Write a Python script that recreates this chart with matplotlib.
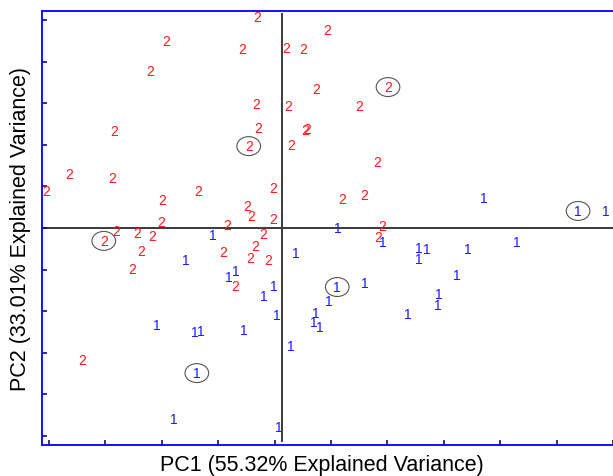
import matplotlib
matplotlib.use("Agg")
import matplotlib.pyplot as plt
import numpy as np
from matplotlib.markers import MarkerStyle
from matplotlib.path import Path
from matplotlib.transforms import Affine2D

plt.rcParams['font.family'] = ['Liberation Sans', 'DejaVu Sans']

# Class 2 scores (red)
pc1_class2 = [-0.44, -2.06, 0.80, -0.71, 0.07, 0.37, -2.34, 0.60, 1.88, -0.46,
              0.11, 1.37, -2.98, -0.43, 0.41, 0.44, -0.59, 0.16, 1.68, -3.78,
              -3.01, -4.18, -1.49, -0.16, 1.06, 1.45, -2.13, -0.62, -0.55, -0.16,
              -2.15, -0.98, 1.77, -2.94, -3.16, -2.57, -2.30, -0.34, 1.70, -2.50,
              -1.05, -0.48, -0.57, -0.25, -2.66, -0.83, -3.55]
pc2_class2 = [5.07, 4.50, 4.76, 4.30, 4.33, 4.30, 3.77, 3.34, 3.39, 2.98,
              2.93, 2.93, 2.33, 2.40, 2.36, 2.38, 1.97, 2.00, 1.59, 1.30,
              1.20, 0.89, 0.89, 0.96, 0.70, 0.79, 0.67, 0.53, 0.29, 0.22,
              0.14, 0.07, 0.05, -0.07, -0.31, -0.12, -0.19, -0.14, -0.22, -0.55,
              -0.58, -0.43, -0.72, -0.77, -0.99, -1.39, -3.17]
circled_class2 = [8, 16, 34]

# Class 1 scores (blue)
pc1_class1 = [3.58, 5.25, 5.74, 0.99, -1.22, 4.17, 1.79, 2.43, 2.57, 3.30,
              0.25, 2.43, -1.70, -0.82, -0.94, 3.10, -0.14, 1.47, 0.98, -0.32,
              2.78, 0.83, 2.77, -0.09, 0.60, 2.23, 0.57, 0.67, -2.22, -1.54,
              -1.44, -0.67, 0.16, -1.51, -1.91, -0.05]
pc2_class1 = [0.72, 0.41, 0.41, 0.00, -0.17, -0.34, -0.34, -0.48, -0.50, -0.50,
              -0.60, -0.75, -0.77, -1.03, -1.18, -1.13, -1.39, -1.32, -1.42, -1.63,
              -1.59, -1.75, -1.85, -2.09, -2.04, -2.07, -2.26, -2.38, -2.33, -2.50,
              -2.48, -2.45, -2.84, -3.49, -4.59, -4.78]
circled_class1 = [1, 18, 33]

xlabel = "PC1 (55.32% Explained Variance)"
ylabel = "PC2 (33.01% Explained Variance)"

fig = plt.figure(figsize=(6.13, 4.77), dpi=100)
xmin, xmax = -4.255, 6.2
ymin, ymax = -5.22, 5.22
ax = fig.add_axes([42/613, 31/477, (xmax - xmin) * 56.4 / 613, 434/477])
ax.set_xlim(xmin, xmax)
ax.set_ylim(ymin, ymax)

# zero lines
ax.plot([0, 0], [-5.12, 5.14], color='#3a3a3a', lw=1.4, zorder=1)
ax.axhline(0, color='#3a3a3a', lw=1.4, zorder=1)

for x, y in zip(pc1_class2, pc2_class2):
    ax.text(x, y, '2', color='#ff1a1a', fontsize=10, ha='center', va='center', zorder=3)
for x, y in zip(pc1_class1, pc2_class1):
    ax.text(x, y, '1', color='#1a1aff', fontsize=10, ha='center', va='center', zorder=3)

ell = Path.unit_circle().transformed(Affine2D().scale(1.25, 1.0))
mk = MarkerStyle(ell)
cx = [pc1_class2[i] for i in circled_class2] + [pc1_class1[i] for i in circled_class1]
cy = [pc2_class2[i] for i in circled_class2] + [pc2_class1[i] for i in circled_class1]
ax.scatter(cx, cy, marker=mk, s=290, facecolors='none', edgecolors='#555555',
           linewidths=0.8, zorder=2)

ax.set_xticks(np.arange(-4.13, xmax, 1.0))
ax.set_yticks(np.arange(-5, 5.5, 1.0))
ax.set_xticklabels([])
ax.set_yticklabels([])
ax.tick_params(direction='in', length=3.5, width=1.2, color='#101060',
               top=False, right=False)
for s in ['left', 'bottom', 'top']:
    ax.spines[s].set_color('#0000ff')
    ax.spines[s].set_linewidth(1.3)
ax.spines['right'].set_visible(False)

fig.text(322/613, 1 - 466/477, xlabel, ha='center', va='center', fontsize=15.5)
fig.text(21/613, 1 - 229/477, ylabel, ha='center', va='center', rotation=90, fontsize=15.5)

fig.savefig('out.png', dpi=100)
